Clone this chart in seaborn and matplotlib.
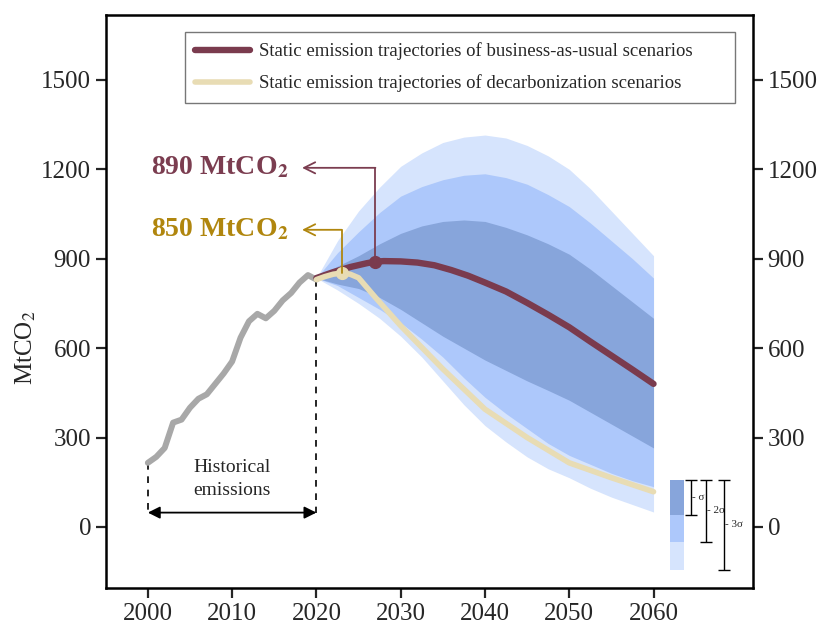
import numpy as np
import pandas as pd
import matplotlib
matplotlib.use('Agg')
import matplotlib.pyplot as plt
import seaborn as sns

# ---------- data ----------
hist_years = list(range(2000, 2021))
hist_vals = [215, 235, 265, 350, 360, 400, 430, 445, 480, 515, 555,
             635, 690, 715, 700, 725, 760, 785, 820, 845, 830]

bau_years = [2020, 2022, 2024, 2026, 2027, 2028, 2030, 2032, 2034, 2036, 2038, 2040,
             2042.5, 2045, 2047.5, 2050, 2052.5, 2055, 2057.5, 2060]
bau_vals = [835, 855, 872, 885, 890, 892, 891, 887, 878, 862, 843, 820,
            790, 752, 712, 670, 622, 575, 528, 480]

dec_years = [2020, 2021, 2022, 2023, 2024, 2025, 2027, 2030, 2035, 2040, 2045, 2050, 2055, 2060]
dec_vals = [830, 840, 848, 852, 848, 836, 770, 675, 530, 395, 300, 215, 165, 118]

band_years = [2020, 2022.5, 2025, 2027.5, 2030, 2032.5, 2035, 2037.5, 2040,
              2042.5, 2045, 2047.5, 2050, 2052.5, 2055, 2057.5, 2060]
s1_up = [835, 875, 910, 950, 985, 1010, 1025, 1030, 1025, 1005, 980, 950, 915, 865, 810, 755, 700]
s1_lo = [835, 815, 800, 770, 730, 685, 640, 600, 560, 525, 490, 458, 425, 385, 345, 305, 265]
s2_up = [835, 920, 990, 1055, 1110, 1142, 1165, 1180, 1185, 1172, 1150, 1115, 1075, 1020, 960, 900, 835]
s2_lo = [835, 810, 770, 730, 685, 630, 570, 500, 435, 380, 330, 280, 240, 210, 180, 155, 135]
s3_up = [835, 960, 1060, 1140, 1210, 1255, 1290, 1308, 1315, 1305, 1280, 1245, 1200, 1135, 1060, 985, 910]
s3_lo = [835, 795, 750, 700, 640, 570, 490, 410, 340, 285, 235, 195, 165, 130, 100, 75, 50]

yticks = [0, 300, 600, 900, 1200, 1500]
xticks = [2000, 2010, 2020, 2030, 2040, 2050, 2060]

# ---------- style ----------
sns.set_theme(style='ticks')
plt.rcParams['font.family'] = ['Liberation Serif', 'DejaVu Serif']
plt.rcParams['mathtext.fontset'] = 'stix'

C_BAU = '#7a3b4e'
C_DEC = '#e8dcb4'
C_HIST = '#a8a8a8'
C_890 = '#7b3d50'
C_850 = '#b0860e'
C_S1 = '#87a5db'
C_S2 = '#adc8fb'
C_S3 = '#d6e4fd'

fig = plt.figure(figsize=(8.29, 6.28), dpi=100)
ax = fig.add_axes([0.1275, 0.0637, 0.7808, 0.9125])

# uncertainty fans
ax.fill_between(band_years, s3_lo, s3_up, color=C_S3, lw=0, zorder=1)
ax.fill_between(band_years, s2_lo, s2_up, color=C_S2, lw=0, zorder=1)
ax.fill_between(band_years, s1_lo, s1_up, color=C_S1, lw=0, zorder=1)

hist = pd.DataFrame({'year': hist_years, 'val': hist_vals})
bau = pd.DataFrame({'year': bau_years, 'val': bau_vals})
dec = pd.DataFrame({'year': dec_years, 'val': dec_vals})

sns.lineplot(data=hist, x='year', y='val', color=C_HIST, lw=4.3, ax=ax, zorder=3)
sns.lineplot(data=bau, x='year', y='val', color=C_BAU, lw=4.6, ax=ax, zorder=4,
             label='Static emission trajectories of business-as-usual scenarios')
sns.lineplot(data=dec, x='year', y='val', color=C_DEC, lw=4.0, ax=ax, zorder=5,
             label='Static emission trajectories of decarbonization scenarios')

# highlighted points + callouts
bau_pt = (2027, 890)
dec_pt = (2023, 852)
ax.plot(*bau_pt, 'o', color=C_BAU, ms=8.5, zorder=6)
ax.plot(*dec_pt, 'o', color=C_DEC, ms=8.5, zorder=6)

ax.plot([bau_pt[0]] * 2, [bau_pt[1], 1205], color=C_890, lw=1.3, zorder=6)
ax.annotate('', xy=(2018.3, 1205), xytext=(bau_pt[0], 1205),
            arrowprops=dict(arrowstyle='->', color=C_890, lw=1.3, mutation_scale=20,
                            shrinkA=0, shrinkB=0))
ax.text(2016.7, 1205, r'890 MtCO$_\mathbf{2}$', color=C_890, fontsize=20,
        fontweight='bold', ha='right', va='center')

ax.plot([dec_pt[0]] * 2, [dec_pt[1], 997], color=C_850, lw=1.3, zorder=6)
ax.annotate('', xy=(2018.3, 997), xytext=(dec_pt[0], 997),
            arrowprops=dict(arrowstyle='->', color=C_850, lw=1.3, mutation_scale=20,
                            shrinkA=0, shrinkB=0))
ax.text(2016.7, 997, r'850 MtCO$_\mathbf{2}$', color=C_850, fontsize=20,
        fontweight='bold', ha='right', va='center')

# historical span
ax.plot([2000, 2000], [hist_vals[0], 48], ls=(0, (4, 4)), color='black', lw=1.2, zorder=2)
ax.plot([2020, 2020], [hist_vals[-1], 48], ls=(0, (4, 4)), color='black', lw=1.2, zorder=2)
ax.annotate('', xy=(2000, 48), xytext=(2020, 48),
            arrowprops=dict(arrowstyle='<|-|>', color='black', lw=1.3, mutation_scale=18,
                            shrinkA=0, shrinkB=0))
ax.text(2010, 160, 'Historical\nemissions', ha='center', va='center', fontsize=14,
        linespacing=1.45)

# sigma key
kx0, kx1 = 2062.0, 2063.6
ax.fill_between([kx0, kx1], 40, 158, color=C_S1, lw=0)
ax.fill_between([kx0, kx1], -50, 40, color=C_S2, lw=0)
ax.fill_between([kx0, kx1], -144, -50, color=C_S3, lw=0)
for bx, lo, lab in [(2064.5, 40, '- σ'), (2066.2, -50, '- 2σ'), (2068.4, -144, '- 3σ')]:
    mid = (158 + lo) / 2
    ax.errorbar(bx, mid, yerr=(158 - lo) / 2, color='black', lw=1.0, capsize=4,
                capthick=1.0)
    ax.text(bx + 0.1, mid, lab, fontsize=8, ha='left', va='center')

# axes
ax.set_xlim(1995, 2071.8)
ax.set_ylim(-205, 1718)
ax.set_xticks(xticks)
ax.set_yticks(yticks)
ax.set_xlabel('')
ax.set_ylabel(r'MtCO$_2$', fontsize=18)
ax.yaxis.set_label_coords(-0.105, 0.42)
ax.tick_params(axis='both', labelsize=18, width=1.6, length=7, direction='out')
ax.tick_params(axis='y', right=True, labelright=True)
for sp in ax.spines.values():
    sp.set_visible(True)
    sp.set_linewidth(1.8)
    sp.set_color('black')

leg = ax.legend(loc='upper left', bbox_to_anchor=(0.1225, 0.848, 0.85, 0.122),
                mode='expand', borderaxespad=0, fontsize=13.5, frameon=True,
                fancybox=False, handlelength=2.9, borderpad=0.55, labelspacing=0.75,
                handletextpad=0.5)
leg.get_frame().set_edgecolor('#555555')
leg.get_frame().set_linewidth(1.0)

fig.savefig('out.png', dpi=100)
